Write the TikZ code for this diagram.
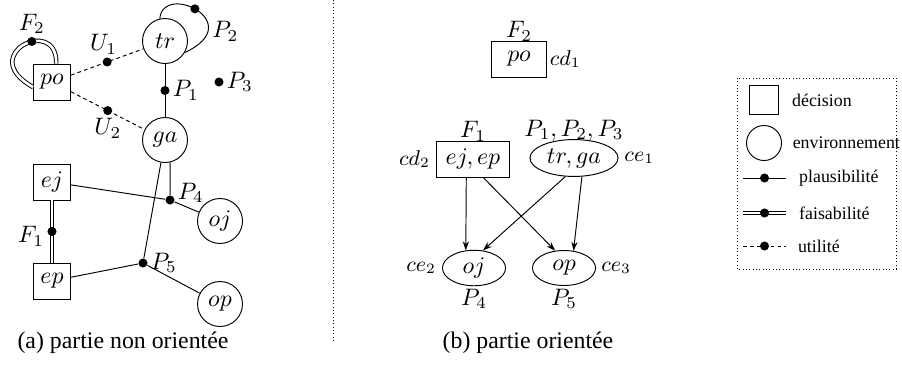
\documentclass[tikz,border=0pt]{standalone}
\usepackage{fontspec}
\setmainfont{Liberation Serif}
\usetikzlibrary{shapes.geometric, arrows.meta, positioning}

\begin{document}
\begin{tikzpicture}[
  x=0.42pt, y=-0.42pt,
  dec/.style={rectangle, draw, inner sep=2pt, minimum width=15.5pt,
              minimum height=15.1pt},
  env/.style={circle, draw, inner sep=1pt, minimum size=18.9pt},
  envset/.style={ellipse, draw, inner sep=1pt, minimum width=26.5pt,
                 minimum height=14.7pt},
  dot/.style={circle, fill, inner sep=0pt, minimum size=3.8pt},
  lbl/.style={inner sep=1pt},
  comp/.style={lbl, font=\small},
  legtxt/.style={font=\fontsize{7.5}{9}\selectfont},
  feas/.style={double, double distance=1.1pt},
  util/.style={dash pattern=on 1.6pt off 1.3pt},
  arrow/.style={-{Stealth[length=3.8pt, width=2.6pt]}}
]
\useasboundingbox (0,0) rectangle (902,364);

% (a) undirected part
\node[dec] (po) at (52,82)  {$po$};
\node[env] (tr) at (165,41) {$tr$};
\node[env] (ga) at (165,140) {$ga$};
\node[dec] (ej) at (52,182) {$ej$};
\node[dec] (ep) at (52,281) {$ep$};
\node[env] (oj) at (220,221) {$oj$};
\node[env] (op) at (220,304) {$op$};

\node[dot] (p3) at (219,82) {};
\node[dot] (p4) at (170,200) {};
\node[dot] (p5) at (143,263) {};

\draw[feas] (po.77) .. controls +(1,-49) and +(-58,-32) .. (po.195)
  node[dot, pos=0.4] (f2) {};
\draw (tr.103) .. controls +(3,-37) and +(64,-30) .. (tr.-30)
  node[dot, pos=0.47] (p2) {};
\draw[util] (po) -- node[dot] (u1) {} (tr);
\draw[util] (po) -- node[dot] (u2) {} (ga);
\draw (tr) -- node[dot] (p1) {} (ga);
\draw[feas] (ej) -- node[dot] (f1) {} (ep);
\draw (ga.-77) -- (p4);
\draw (ej) -- (p4) -- (oj);
\draw (ga) -- (p5);
\draw (ep) -- (p5) -- (op);

\node[lbl, above=0pt of f2] (F2a) {$F_2$};
\node[lbl, above=0pt of u1, xshift=-1.5pt] (U1a) {$U_1$};
\node[lbl, below=0pt of u2] (U2a) {$U_2$};
\node[lbl, right=0pt of p1] (P1a) {$P_1$};
\node[lbl, right=9pt of tr, yshift=4pt] (P2a) {$P_2$};
\node[lbl, right=0pt of p3] (P3a) {$P_3$};
\node[lbl, right=0pt of p4, yshift=3pt] (P4a) {$P_4$};
\node[lbl, right=0pt of p5] (P5a) {$P_5$};
\node[lbl, left=0pt of f1, yshift=-2pt] (F1a) {$F_1$};

\node (capA) at (123,343) {(a) partie non orientée};

% separator
\coordinate (sepTop) at (333,0);
\coordinate (sepBot) at (333,343);
\draw[densely dotted] (sepTop) -- (sepBot);

% (b) directed part
\node[dec, minimum width=23.1pt] (poR) at (519,59) {$po$};
\node[dec, minimum width=30.7pt] (ejep) at (473,159) {$ej, ep$};
\node[envset, minimum width=37pt, minimum height=15.5pt] (trga) at (574,158) {$tr, ga$};
\node[envset] (ojR) at (474,268) {$oj$};
\node[envset] (opR) at (564,268) {$op$};

\node[lbl, above=-1.5pt of poR] (F2b) {$F_2$};
\node[comp, right=0pt of poR] (cd1) {$cd_1$};
\node[lbl, above=-1.5pt of ejep] (F1b) {$F_1$};
\node[comp, left=1.3pt of ejep] (cd2) {$cd_2$};
\node[lbl, above=-2pt of trga] (Pb) {$P_1, P_2, P_3$};
\node[comp, right=1.3pt of trga] (ce1) {$ce_1$};
\node[comp, left=1.3pt of ojR] (ce2) {$ce_2$};
\node[lbl, below=0pt of ojR] (P4b) {$P_4$};
\node[comp, right=1pt of opR] (ce3) {$ce_3$};
\node[lbl, below=0pt of opR] (P5b) {$P_5$};

\draw[arrow] (ejep.-110) -- (ojR.115);
\draw[arrow] (ejep.-61) -- (opR.117);
\draw[arrow] (trga.245) -- (ojR.63);
\draw[arrow] (trga.-67) -- (opR.61);

\node (capB) at (528,343) {(b) partie orientée};

% legend
\draw[densely dotted] (737,78) rectangle (896,269);
\node[dec, minimum width=12.2pt, minimum height=12.2pt] (legDec) at (764,100) {};
\node[legtxt, right=2pt of legDec] (legDecT) {décision};
\node[env, minimum size=14.7pt] (legEnv) at (764,143) {};
\node[legtxt, right=1pt of legEnv] (legEnvT) {environnement};

\coordinate (plA) at (743,178);
\coordinate (plB) at (786,178);
\draw (plA) -- node[dot] (plDot) {} (plB);
\node[legtxt, right=2pt of plB] (plT) {plausibilité};

\coordinate (faA) at (743,213);
\coordinate (faB) at (786,213);
\draw[feas] (faA) -- node[dot] (faDot) {} (faB);
\node[legtxt, right=2pt of faB] (faT) {faisabilité};

\coordinate (utA) at (743,246);
\coordinate (utB) at (786,246);
\draw[util] (utA) -- node[dot] (utDot) {} (utB);
\node[legtxt, right=1.5pt of utB] (utT) {utilité};

\end{tikzpicture}
\end{document}
